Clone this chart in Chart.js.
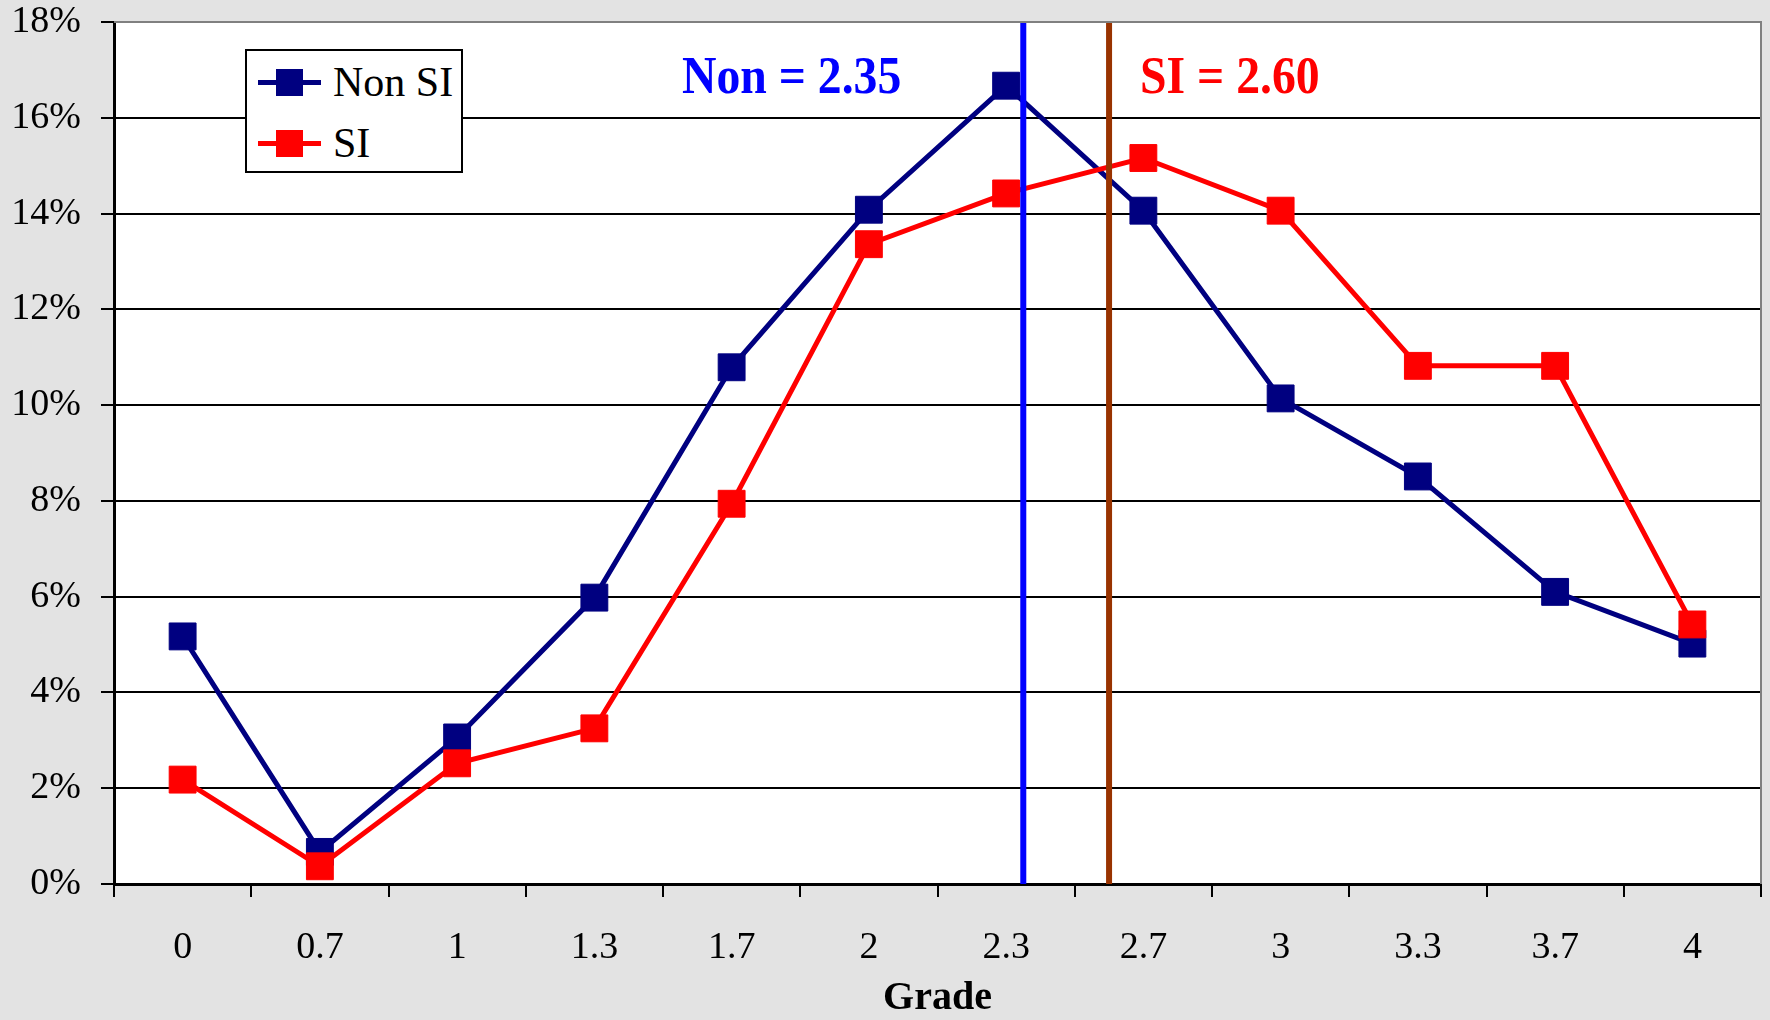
<!DOCTYPE html>
<html>
<head>
<meta charset="utf-8">
<script src="https://cdn.jsdelivr.net/npm/chart.js@4.4.0/dist/chart.umd.min.js"></script>
<style>
  html, body { margin: 0; padding: 0; background: #e3e3e3; }
  #wrap { position: relative; width: 1770px; height: 1020px; }
  #legend {
    position: absolute; left: 245px; top: 49px; width: 214px; height: 120px;
    border: 2px solid #000; background: #fff;
    font-family: "Liberation Serif", "Times New Roman", serif; font-size: 42px; color: #000;
  }
  .row { position: absolute; left: 0; height: 50px; display: flex; align-items: center; }
  .sw { position: relative; width: 63px; height: 28px; margin-left: 11px; margin-right: 12px; }
  .sw .ln { position: absolute; left: 0; right: 0; top: 12px; height: 5px; }
  .sw .sq { position: absolute; left: 18px; top: 1px; width: 27px; height: 27px; }
</style>
</head>
<body>
<div id="wrap">
  <canvas id="chart" width="1770" height="1020"></canvas>
  <div id="legend">
    <div class="row" style="top:6px"><div class="sw"><div class="ln" style="background:#000080"></div><div class="sq" style="background:#000080"></div></div><span>Non SI</span></div>
    <div class="row" style="top:67px"><div class="sw"><div class="ln" style="background:#ff0000"></div><div class="sq" style="background:#ff0000"></div></div><span>SI</span></div>
  </div>
</div>
<script>
// grade categories and percentage of students at each grade
const grades = ["0", "0.7", "1", "1.3", "1.7", "2", "2.3", "2.7", "3", "3.3", "3.7", "4"];
const nonSI = [5.17, 0.67, 3.06, 5.98, 10.79, 14.08, 16.67, 14.06, 10.14, 8.51, 6.10, 5.02];
const siData = [2.18, 0.37, 2.52, 3.25, 7.94, 13.36, 14.42, 15.16, 14.06, 10.82, 10.82, 5.42];
const yTicks = [0, 2, 4, 6, 8, 10, 12, 14, 16, 18];

// mean grades shown as vertical lines
const meanNon = 2.35;
const meanSI = 2.60;

const serif = '"Liberation Serif", "Times New Roman", serif';

// grade value -> position on the category index axis
function gradeToIndex(g) {
  for (let i = 0; i < grades.length - 1; i++) {
    const a = parseFloat(grades[i]), b = parseFloat(grades[i + 1]);
    if (g >= a && g <= b) return i + (g - a) / (b - a);
  }
  return grades.length - 1;
}

const plotBg = {
  id: "plotBg",
  beforeDraw(chart) {
    const { ctx, chartArea: a } = chart;
    ctx.save();
    ctx.fillStyle = "#ffffff";
    ctx.fillRect(a.left, a.top, a.right - a.left, a.bottom - a.top);
    ctx.restore();
  },
  afterDraw(chart) {
    const { ctx, chartArea: a } = chart;
    ctx.save();
    ctx.strokeStyle = "#808080";
    ctx.lineWidth = 2;
    ctx.beginPath();
    ctx.moveTo(a.left, a.top);
    ctx.lineTo(a.right, a.top);
    ctx.lineTo(a.right, a.bottom);
    ctx.stroke();
    ctx.restore();
  },
};

const meanLabels = {
  id: "meanLabels",
  afterDatasetsDraw(chart) {
    const { ctx } = chart;
    const x2 = chart.scales.x2;
    const xb = x2.getPixelForValue(gradeToIndex(meanNon));
    const xr = x2.getPixelForValue(gradeToIndex(meanSI));
    ctx.save();
    ctx.font = "bold 53px " + serif;
    ctx.textBaseline = "alphabetic";

    ctx.save();
    ctx.translate(xb - 122, 93);
    ctx.scale(0.9, 1);
    ctx.textAlign = "right";
    ctx.fillStyle = "#0000ff";
    ctx.fillText("Non = " + meanNon.toFixed(2), 0, 0);
    ctx.restore();

    ctx.save();
    ctx.translate(xr + 31, 93);
    ctx.scale(0.9, 1);
    ctx.textAlign = "left";
    ctx.fillStyle = "#ff0000";
    ctx.fillText("SI = " + meanSI.toFixed(2), 0, 0);
    ctx.restore();

    ctx.restore();
  },
};

function vline(g, color) {
  const p = gradeToIndex(g);
  return {
    label: "mean",
    xAxisID: "x2",
    data: [{ x: p, y: 0 }, { x: p, y: 18 }],
    borderColor: color,
    borderWidth: 6,
    pointRadius: 0,
    pointHoverRadius: 0,
    order: 1,
  };
}

new Chart(document.getElementById("chart"), {
  type: "line",
  data: {
    labels: grades,
    datasets: [
      vline(meanNon, "#0000ff"),
      vline(meanSI, "#993300"),
      {
        label: "SI",
        data: siData,
        borderColor: "#ff0000",
        backgroundColor: "#ff0000",
        borderWidth: 5,
        pointStyle: "rect",
        pointRadius: 19,
        pointHoverRadius: 19,
        pointBorderWidth: 1,
        order: 2,
      },
      {
        label: "Non SI",
        data: nonSI,
        borderColor: "#000080",
        backgroundColor: "#000080",
        borderWidth: 5,
        pointStyle: "rect",
        pointRadius: 19,
        pointHoverRadius: 19,
        pointBorderWidth: 1,
        order: 3,
      },
    ],
  },
  options: {
    responsive: false,
    animation: false,
    layout: { autoPadding: false, padding: { top: 22, right: 9, left: 0, bottom: 0 } },
    plugins: {
      legend: { display: false },
      tooltip: { enabled: false },
    },
    scales: {
      x: {
        type: "category",
        offset: true,
        grid: { offset: true, drawOnChartArea: false, tickLength: 13, color: "#000", lineWidth: 2 },
        border: { color: "#000", width: 3 },
        ticks: {
          color: "#000",
          font: { family: serif, size: 38, lineHeight: 1 },
          padding: 32,
          maxRotation: 0,
          autoSkip: false,
        },
        title: {
          display: true,
          text: "Grade",
          color: "#000",
          font: { family: serif, size: 40, weight: "bold", lineHeight: 1 },
          padding: { top: 0, bottom: 1 },
        },
        afterFit: (s) => { s.height = 136; s.paddingLeft = 0; s.paddingRight = 0; },
      },
      x2: {
        type: "linear",
        display: false,
        min: -0.5,
        max: grades.length - 0.5,
      },
      y: {
        min: 0,
        max: 18,
        afterBuildTicks: (s) => { s.ticks = yTicks.map((v) => ({ value: v })); },
        grid: { color: "#000", lineWidth: 2, tickLength: 13 },
        border: { color: "#000", width: 3 },
        ticks: {
          color: "#000",
          font: { family: serif, size: 38, lineHeight: 1 },
          padding: 20,
          callback: (v) => v + "%",
        },
        afterFit: (s) => { s.width = 114; s.paddingTop = 0; s.paddingBottom = 0; },
      },
    },
  },
  plugins: [plotBg, meanLabels],
});
</script>
</body>
</html>
